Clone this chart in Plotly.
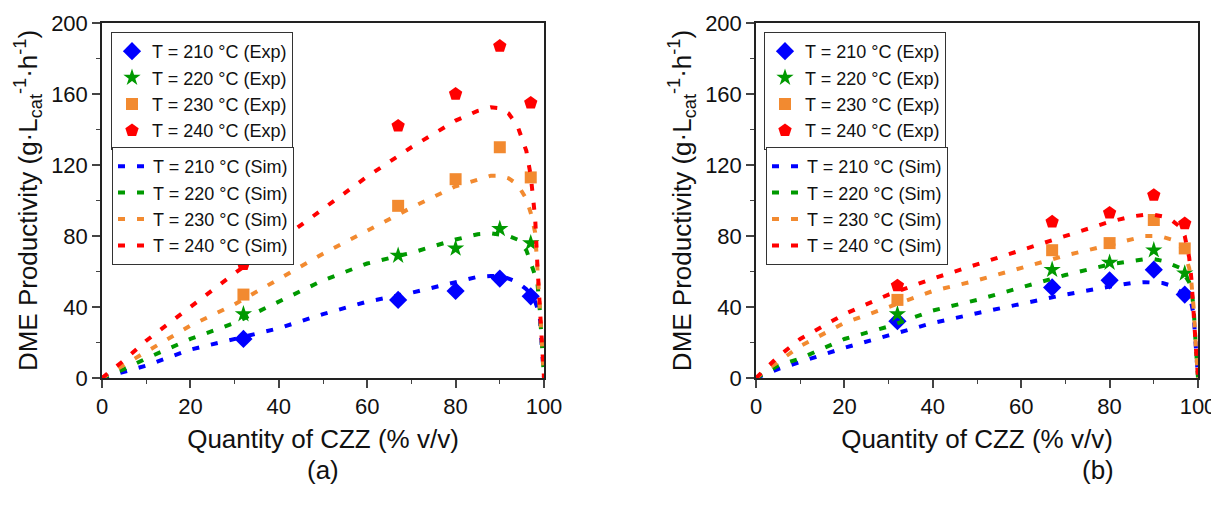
import plotly.graph_objects as go

# page body adds an 8px offset; the figure is sized/positioned to compensate
OFF = 8
W, H = 1219 - OFF, 507 - OFF

# ---------------- data ----------------
EXP_X = [32, 67, 80, 90, 97]
TEMPS = ["210", "220", "230", "240"]

# panel (a) experimental
A_EXP_210 = [22, 44, 49, 56, 46]
A_EXP_220 = [36, 69, 73, 84, 76]
A_EXP_230 = [47, 97, 112, 130, 113]
A_EXP_240 = [64, 142, 160, 187, 155]

# panel (b) experimental
B_EXP_210 = [32, 51, 55, 61, 47]
B_EXP_220 = [36, 61, 65, 72, 59]
B_EXP_230 = [44, 72, 76, 89, 73]
B_EXP_240 = [52, 88, 93, 103, 87]

# simulated curves (shared x grid)
SIM_X = [0, 2, 5, 10, 20, 30, 40, 50, 60, 70, 80, 85, 88, 90, 92, 94, 96, 97, 98, 98.5, 99, 99.5, 100]

A_SIM_210 = [0, 1.5, 3.5, 7, 16, 22, 28, 36, 43, 48, 54, 57, 57.5, 57.5, 56, 54, 50, 47, 43, 39, 36, 18, 0]
A_SIM_220 = [0, 2, 5, 11, 22, 31, 43, 55, 64.5, 70.5, 78, 81, 81.5, 81, 80, 78, 72, 65, 58, 54, 40, 18, 0]
A_SIM_230 = [0, 3, 7.5, 15, 29.5, 41.5, 56, 70, 83, 96, 108, 112, 114, 114, 112.5, 109, 101, 93, 82, 62, 40, 18, 0]
A_SIM_240 = [0, 4, 10, 21, 40, 59, 77, 95, 113.5, 130, 145, 150.5, 152.5, 152, 149, 142, 128, 114, 90, 64, 40, 18, 0]

B_SIM_210 = [0, 2, 5, 9, 17, 24, 31, 36.5, 42, 47, 51.5, 53.5, 54, 54, 53.5, 52, 49, 47, 45, 42, 36, 18, 0]
B_SIM_220 = [0, 3, 7, 11, 22, 29, 38, 44, 51, 58, 64, 66, 67, 67, 66, 64, 62, 58, 54, 50, 40, 18, 0]
B_SIM_230 = [0, 4, 9, 18, 31, 40, 49, 55, 62, 69, 75, 78, 80, 80, 79.5, 78, 74, 70, 62, 54, 40, 18, 0]
B_SIM_240 = [0, 5, 12, 22, 36, 47, 56, 64, 72, 80, 88, 91, 92, 92, 91, 89, 85, 80, 68, 56, 40, 18, 0]

X_TICKS = [0, 20, 40, 60, 80, 100]
Y_TICKS = [0, 40, 80, 120, 160, 200]

# ---------------- style ----------------
COLORS = ["#0000FF", "#009900", "#F28A30", "#FF0000"]
SYMBOLS = ["diamond", "star", "square", "pentagon"]
SIZES = [14, 13, 12, 14]
FONT = "Arial, Liberation Sans, sans-serif"


def px_x(p):
    return (p - OFF) / W


def px_y(p):
    return (H - (p - OFF)) / H


fig = go.Figure()

panels = [
    dict(xa="x", ya="y", exp=[A_EXP_210, A_EXP_220, A_EXP_230, A_EXP_240],
         sim=[A_SIM_210, A_SIM_220, A_SIM_230, A_SIM_240], leg=("legend", "legend2")),
    dict(xa="x2", ya="y2", exp=[B_EXP_210, B_EXP_220, B_EXP_230, B_EXP_240],
         sim=[B_SIM_210, B_SIM_220, B_SIM_230, B_SIM_240], leg=("legend3", "legend4")),
]

for p in panels:
    for i, t in enumerate(TEMPS):
        fig.add_trace(go.Scatter(
            x=EXP_X, y=p["exp"][i], mode="markers", xaxis=p["xa"], yaxis=p["ya"],
            name=f"T = {t} °C (Exp)", legend=p["leg"][0],
            marker=dict(symbol=SYMBOLS[i], size=SIZES[i], color=COLORS[i], line=dict(width=0)),
            cliponaxis=False,
        ))
    for i, t in enumerate(TEMPS):
        fig.add_trace(go.Scatter(
            x=SIM_X, y=p["sim"][i], mode="lines", xaxis=p["xa"], yaxis=p["ya"],
            name=f"T = {t} °C (Sim)", legend=p["leg"][1],
            line=dict(color=COLORS[i], width=4, dash="7px,12px"),
        ))

ytitle = "DME Productivity (g·L<sub>cat</sub><sup>-1</sup>·h<sup>-1</sup>)"
xtitle = "Quantity of CZZ (% v/v)"

common_x = dict(
    range=[0, 100], tickvals=X_TICKS, ticks="outside", ticklen=8, tickwidth=1.5,
    showline=True, linecolor="#222", linewidth=1.5, mirror=True, showgrid=False, zeroline=False,
    automargin=False,
    tickfont=dict(size=22, color="#111", family=FONT),
    minor=dict(ticks="outside", ticklen=4, tickwidth=1.2, dtick=10, tick0=0, showgrid=False),
    title=dict(text=xtitle, font=dict(size=26, color="#111", family=FONT), standoff=12),
)
common_y = dict(
    range=[0, 200], tickvals=Y_TICKS, ticks="outside", ticklen=8, tickwidth=1.5,
    showline=True, linecolor="#222", linewidth=1.5, mirror=True, showgrid=False, zeroline=False,
    automargin=False,
    tickfont=dict(size=22, color="#111", family=FONT),
    minor=dict(ticks="outside", ticklen=4, tickwidth=1.2, dtick=20, tick0=0, showgrid=False),
    title=dict(text=ytitle, font=dict(size=26, color="#111", family=FONT), standoff=6),
)

leg_common = dict(
    bgcolor="white", bordercolor="#333", borderwidth=1,
    font=dict(size=18, family=FONT, color="#111"), xanchor="left", yanchor="top",
    itemwidth=30, tracegroupgap=0,
)

fig.update_layout(
    width=W, height=H,
    margin=dict(l=0, r=0, t=0, b=0, autoexpand=False),
    paper_bgcolor="white", plot_bgcolor="white",
    font=dict(family=FONT, color="#111"),
    xaxis=dict(domain=[px_x(102), px_x(544)], anchor="y", **common_x),
    yaxis=dict(domain=[px_y(378), px_y(23)], anchor="x", **common_y),
    xaxis2=dict(domain=[px_x(756), px_x(1198)], anchor="y2", **common_x),
    yaxis2=dict(domain=[px_y(378), px_y(23)], anchor="x2", **common_y),
    legend=dict(x=px_x(111), y=px_y(32), **leg_common),
    legend2=dict(x=px_x(112), y=px_y(147), **leg_common),
    legend3=dict(x=px_x(764), y=px_y(32), **leg_common),
    legend4=dict(x=px_x(766), y=px_y(147), **leg_common),
    annotations=[
        dict(text="(a)", x=px_x(323), y=px_y(470), xref="paper", yref="paper",
             xanchor="center", yanchor="middle",
             showarrow=False, font=dict(size=26, family=FONT, color="#111")),
        dict(text="(b)", x=px_x(1098), y=px_y(470), xref="paper", yref="paper",
             xanchor="center", yanchor="middle",
             showarrow=False, font=dict(size=26, family=FONT, color="#111")),
    ],
)

fig.write_html("out.html")
